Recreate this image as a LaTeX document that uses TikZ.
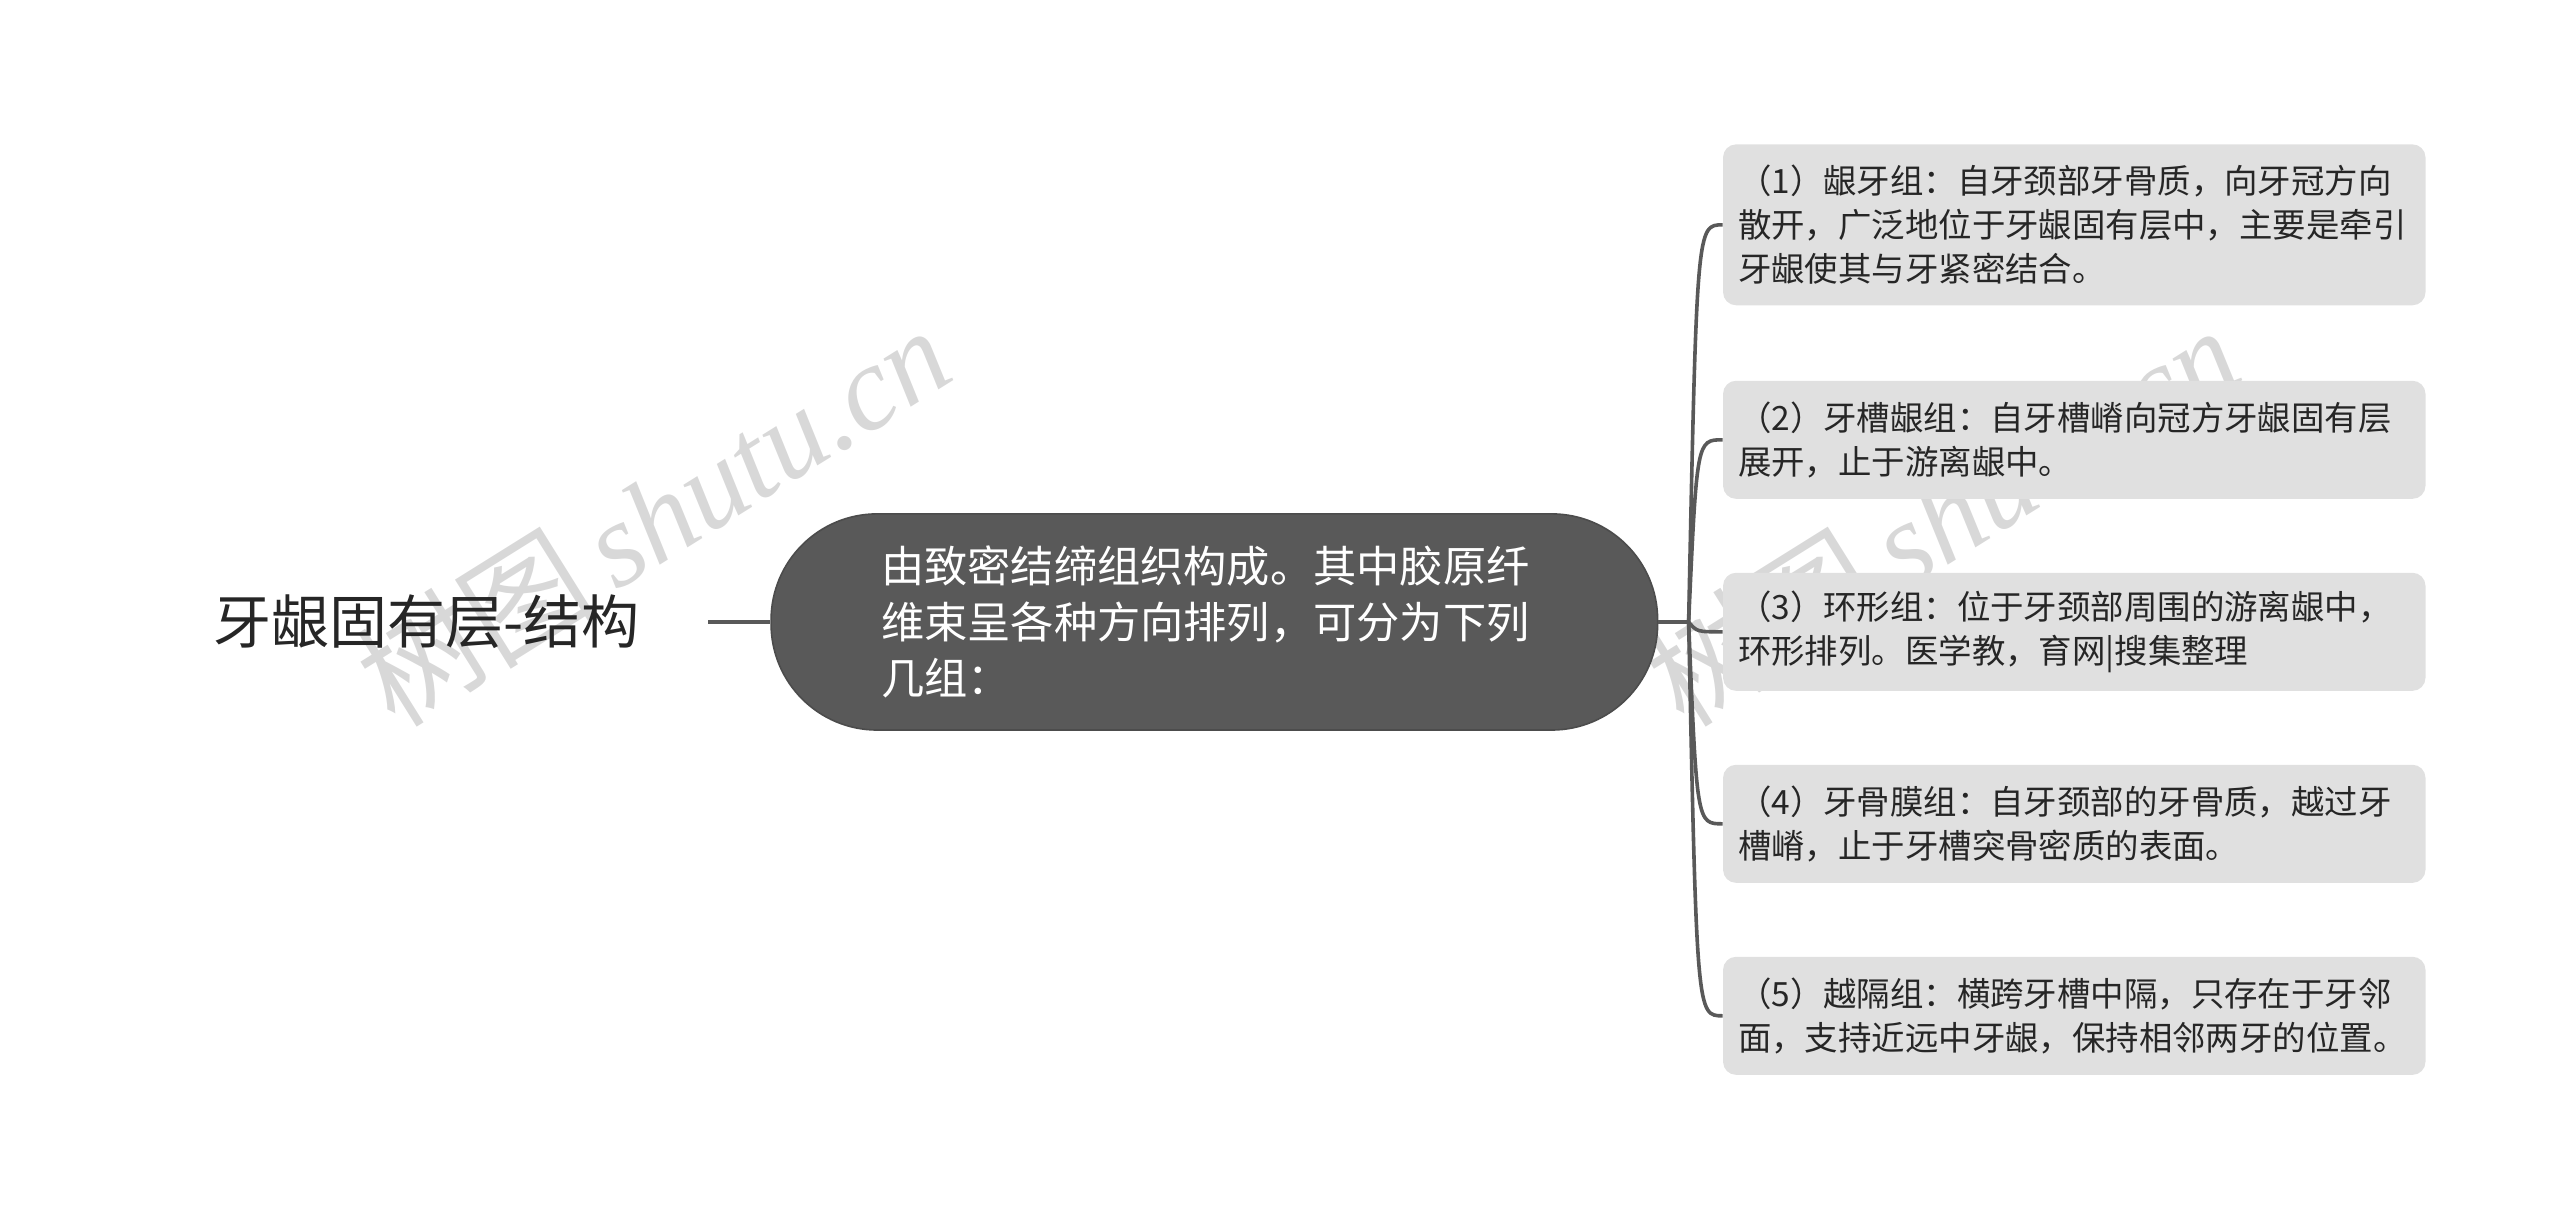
\documentclass[tikz,border=0pt]{standalone}
\usepackage{fontspec}
\setmainfont{Noto Sans CJK SC}
\newfontfamily\cjk{Noto Sans CJK SC}
\newfontfamily\wmserif{Liberation Serif}
\usepackage{xcolor}
\usepackage{tikz}
\usetikzlibrary{calc}
\definecolor{coregray}{HTML}{595959}
\definecolor{leafgray}{HTML}{E0E0E0}
\definecolor{inkgray}{HTML}{262626}
\tikzset{
	rootlabel/.style={inner xsep=34pt,inner ysep=2pt,text=inkgray,font=\fontsize{29}{34}\selectfont},
	core/.style={rectangle,rounded corners=53pt,draw=coregray!85!black,line width=0.8pt,fill=coregray,text=white,
		text width=333pt,align=left,inner xsep=55pt,minimum height=108pt,font=\fontsize{21.6}{27.9}\selectfont},
	leaf/.style={rectangle,rounded corners=6.5pt,fill=leafgray,text=inkgray,text width=336pt,align=left,
		inner xsep=7.5pt,minimum height=59pt,font=\fontsize{16.7}{22.1}\selectfont},
	branch/.style={draw=coregray,line width=1.8pt},
	watermark/.style={text=black!17,opacity=0.9,rotate=32,font=\fontsize{60}{60}\selectfont}
	}
\begin{document}
\begin{tikzpicture}[x=0.82pt,y=-0.82pt]
          \useasboundingbox (0,0) rectangle (1560,740.4);

          \node[watermark] (wm1) at (398,314) {树图\,{\wmserif\itshape shutu.cn}};
          \node[watermark] (wm2) at (1183,314) {树图\,{\wmserif\itshape shutu.cn}};

          \node[rootlabel] (root) at (260,379) {牙龈固有层-结构};
          \node[core] (core) at (740,379) {由致密结缔组织构成。其中胶原纤\\维束呈各种方向排列，可分为下列\\几组：};

          \node[leaf,minimum height=80.4pt] (g1) at (1264,137) {（1）龈牙组：自牙颈部牙骨质，向牙冠方向\\散开，广泛地位于牙龈固有层中，主要是牵引\\牙龈使其与牙紧密结合。};
          \node[leaf] (g2) at (1264,268) {（2）牙槽龈组：自牙槽嵴向冠方牙龈固有层\\展开，止于游离龈中。};
          \node[leaf] (g3) at (1264,385) {（3）环形组：位于牙颈部周围的游离龈中，\\环形排列。医学教，育网|搜集整理};
          \node[leaf] (g4) at (1264,502) {（4）牙骨膜组：自牙颈部的牙骨质，越过牙\\槽嵴，止于牙槽突骨密质的表面。};
          \node[leaf] (g5) at (1264,619) {（5）越隔组：横跨牙槽中隔，只存在于牙邻\\面，支持近远中牙龈，保持相邻两牙的位置。};

          \coordinate (hub) at (1029,379);
          \coordinate (bend) at (1034,379);

          \draw[branch] (root.east) -- (core.west);
          \draw[branch] (core.east) -- (hub);
          \foreach \i in {1,...,5}
            \draw[branch] (hub) .. controls (bend |- g\i.west) .. (g\i.west);
        \end{tikzpicture}
\end{document}
